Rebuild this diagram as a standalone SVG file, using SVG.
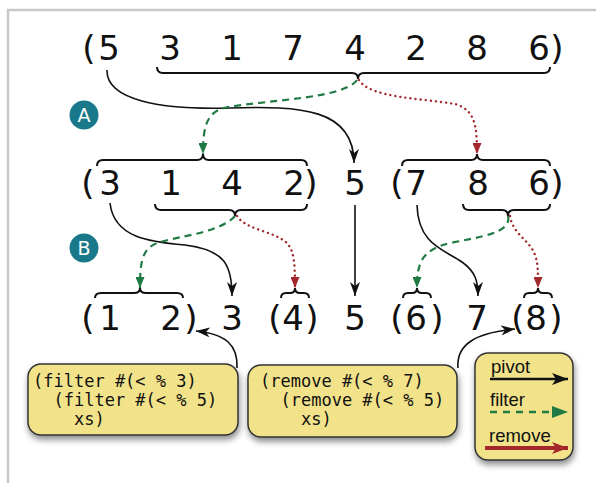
<svg xmlns="http://www.w3.org/2000/svg" width="596" height="483" viewBox="0 0 596 483">
<defs>
<style>
.num{font-family:"DejaVu Sans",sans-serif;font-size:34px;fill:#111;text-anchor:middle}
.code{font-family:"DejaVu Sans Mono",monospace;font-size:17px;fill:#111;white-space:pre}
.leg{font-family:"Liberation Sans",Arial,sans-serif;font-size:18.5px;fill:#111}
.brace{fill:none;stroke:#111;stroke-width:2}
.pivot{fill:none;stroke:#111;stroke-width:1.6}
.filter{fill:none;stroke:#217a43;stroke-width:2.2;stroke-dasharray:7,5}
.remove{fill:none;stroke:#a3282b;stroke-width:2.4;stroke-dasharray:0.1,5;stroke-linecap:round}
.box{fill:#f2e38a;stroke:#333;stroke-width:1.5}
.badge{fill:#19788a}
.badgetxt{font-family:"DejaVu Sans",sans-serif;font-size:19px;fill:#fff;text-anchor:middle}
</style>
<marker id="mPivot" viewBox="0 0 14 10" refX="14" refY="5" markerWidth="14" markerHeight="10" markerUnits="userSpaceOnUse" orient="auto">
<path d="M0,0 L14,5 L0,10 L4,5 z" fill="#111"/>
</marker>
<marker id="mGreen" viewBox="0 0 11 9" refX="11" refY="4.5" markerWidth="11" markerHeight="9" markerUnits="userSpaceOnUse" orient="auto">
<path d="M0,0 L11,4.5 L0,9 z" fill="#217a43"/>
</marker>
<marker id="mRed" viewBox="0 0 11 9" refX="11" refY="4.5" markerWidth="11" markerHeight="9" markerUnits="userSpaceOnUse" orient="auto">
<path d="M0,0 L11,4.5 L0,9 z" fill="#a3282b"/>
</marker>
<marker id="mLegBlack" viewBox="0 0 16 12" refX="16" refY="6" markerWidth="16" markerHeight="12" markerUnits="userSpaceOnUse" orient="auto">
<path d="M0,0 L16,6 L0,12 L4,6 z" fill="#111"/>
</marker>
<marker id="mLegGreen" viewBox="0 0 16 12" refX="16" refY="6" markerWidth="16" markerHeight="12" markerUnits="userSpaceOnUse" orient="auto">
<path d="M0,0 L16,6 L0,12 z" fill="#217a43"/>
</marker>
<marker id="mLegRed" viewBox="0 0 16 12" refX="16" refY="6" markerWidth="16" markerHeight="12" markerUnits="userSpaceOnUse" orient="auto">
<path d="M0,0 L16,6 L0,12 L4,6 z" fill="#a3282b"/>
</marker>
<filter id="shadow" x="-20%" y="-20%" width="140%" height="150%">
<feDropShadow dx="1" dy="4" stdDeviation="3" flood-color="#000" flood-opacity="0.45"/>
</filter>
</defs>
<rect width="596" height="483" fill="#fff"/>
<path d="M8,483 V10 H596" fill="none" stroke="#c8c8c8" stroke-width="2.5"/>

<g id="row-top">
<text class="num" x="89" y="60">(</text>
<text class="num" x="109" y="60">5</text>
<text class="num" x="170" y="60">3</text>
<text class="num" x="232" y="60">1</text>
<text class="num" x="293" y="60">7</text>
<text class="num" x="355" y="60">4</text>
<text class="num" x="416" y="60">2</text>
<text class="num" x="477" y="60">8</text>
<text class="num" x="539" y="60">6</text>
<text class="num" x="557" y="60">)</text>
<path class="brace" d="M157,67 Q157,73 163,73 H352 Q358,73 358,79 Q358,73 364,73 H544 Q550,73 550,67"/>
</g>

<g id="row-middle-left">
<path class="brace" d="M97,166 Q97,160 103,160 H197 Q203,160 203,154 Q203,160 209,160 H301 Q307,160 307,166"/>
<text class="num" x="88" y="195">(</text>
<text class="num" x="110" y="195">3</text>
<text class="num" x="171" y="195">1</text>
<text class="num" x="232" y="195">4</text>
<text class="num" x="294" y="195">2</text>
<text class="num" x="311" y="195">)</text>
<path class="brace" d="M155,204 Q155,210 161,210 H229 Q235,210 235,216 Q235,210 241,210 H301 Q307,210 307,204"/>
</g>
<g id="row-middle-pivot">
<text class="num" x="355" y="195">5</text>
</g>
<g id="row-middle-right">
<path class="brace" d="M402,166 Q402,160 408,160 H471 Q477,160 477,154 Q477,160 483,160 H544 Q550,160 550,166"/>
<text class="num" x="397" y="195">(</text>
<text class="num" x="416" y="195">7</text>
<text class="num" x="478" y="195">8</text>
<text class="num" x="539" y="195">6</text>
<text class="num" x="557" y="195">)</text>
<path class="brace" d="M463,204 Q463,210 469,210 H502 Q508,210 508,216 Q508,210 514,210 H544 Q550,210 550,204"/>
</g>

<g id="row-bottom">
<path class="brace" d="M95,298 Q95,293 101,293 H134 Q140,293 140,288 Q140,293 146,293 H177 Q183,293 183,298"/>
<text class="num" x="88" y="330">(</text>
<text class="num" x="110" y="330">1</text>
<text class="num" x="171" y="330">2</text>
<text class="num" x="191" y="330">)</text>
<text class="num" x="232" y="330">3</text>
<path class="brace" d="M281,298 Q281,293 286,293 H290 Q295,293 295,288 Q295,293 300,293 H304 Q309,293 309,298"/>
<text class="num" x="275" y="330">(</text>
<text class="num" x="293" y="330">4</text>
<text class="num" x="312" y="330">)</text>
<text class="num" x="355" y="330">5</text>
<path class="brace" d="M403,298 Q403,293 408,293 H412 Q417,293 417,288 Q417,293 422,293 H426 Q431,293 431,298"/>
<text class="num" x="397" y="330">(</text>
<text class="num" x="416" y="330">6</text>
<text class="num" x="437" y="330">)</text>
<text class="num" x="477" y="330">7</text>
<path class="brace" d="M524,298 Q524,293 529,293 H533 Q538,293 538,288 Q538,293 543,293 H547 Q552,293 552,298"/>
<text class="num" x="518" y="330">(</text>
<text class="num" x="536" y="330">8</text>
<text class="num" x="556" y="330">)</text>
</g>

<g id="badge-A">
<circle class="badge" cx="84" cy="115" r="14.5"/>
<text class="badgetxt" x="84" y="122">A</text>
</g>
<g id="badge-B">
<circle class="badge" cx="84" cy="248" r="14.5"/>
<text class="badgetxt" x="84" y="255">B</text>
</g>

<g id="connectors">
<path class="pivot" d="M107,70 C106,100 160,110 230,108 C300,106 354,108 354,163" marker-end="url(#mPivot)"/>
<path class="filter" d="M357,80 C345,98 270,100 228,107 C207,111 203,125 203,154" marker-end="url(#mGreen)"/>
<path class="remove" d="M359,80 C370,98 420,98 455,104 C475,110 477,125 477,154" marker-end="url(#mRed)"/>

<path class="pivot" d="M110,203 C114,238 150,242 185,245 C225,250 232,265 232,296" marker-end="url(#mPivot)"/>
<path class="filter" d="M235,216 C220,233 178,236 157,243 C142,249 140,262 140,288" marker-end="url(#mGreen)"/>
<path class="remove" d="M237,216 C246,230 274,231 287,243 C294,251 295,262 295,288" marker-end="url(#mRed)"/>
<path class="pivot" d="M355,205 V296" marker-end="url(#mPivot)"/>
<path class="pivot" d="M417,205 C418,245 445,250 462,262 C476,272 478,282 478,296" marker-end="url(#mPivot)"/>
<path class="filter" d="M508,216 C512,233 480,237 450,243 C422,250 417,262 417,288" marker-end="url(#mGreen)"/>
<path class="remove" d="M510,216 C513,235 530,240 535,255 C538,263 538,270 538,288" marker-end="url(#mRed)"/>

<path class="pivot" d="M237,368 C238,345 226,334 196,331" marker-end="url(#mPivot)"/>
<path class="pivot" d="M458,368 C456,344 476,333 515,329" marker-end="url(#mPivot)"/>
</g>

<g id="note-filter">
<rect class="box" x="28" y="364" width="210" height="71" rx="13" filter="url(#shadow)"/>
<text class="code" x="33" y="387">(filter #(&lt; % 3)</text>
<text class="code" x="33" y="406">  (filter #(&lt; % 5)</text>
<text class="code" x="33" y="425">    xs)</text>
</g>
<g id="note-remove">
<rect class="box" x="248" y="365" width="209" height="72" rx="13" filter="url(#shadow)"/>
<text class="code" x="260" y="387">(remove #(&lt; % 7)</text>
<text class="code" x="260" y="406">  (remove #(&lt; % 5)</text>
<text class="code" x="260" y="425">    xs)</text>
</g>
<g id="legend">
<rect class="box" x="475" y="353" width="98" height="107" rx="13" filter="url(#shadow)"/>
<text class="leg" x="491" y="373">pivot</text>
<path d="M490,379 H568" stroke="#111" stroke-width="2.5" fill="none" marker-end="url(#mLegBlack)"/>
<text class="leg" x="490" y="406">filter</text>
<path d="M490,412 H568" stroke="#217a43" stroke-width="2.5" stroke-dasharray="7,6" fill="none" marker-end="url(#mLegGreen)"/>
<text class="leg" x="489" y="442">remove</text>
<path d="M485,448 H568" stroke="#a3282b" stroke-width="4" fill="none" marker-end="url(#mLegRed)"/>
</g>
</svg>
